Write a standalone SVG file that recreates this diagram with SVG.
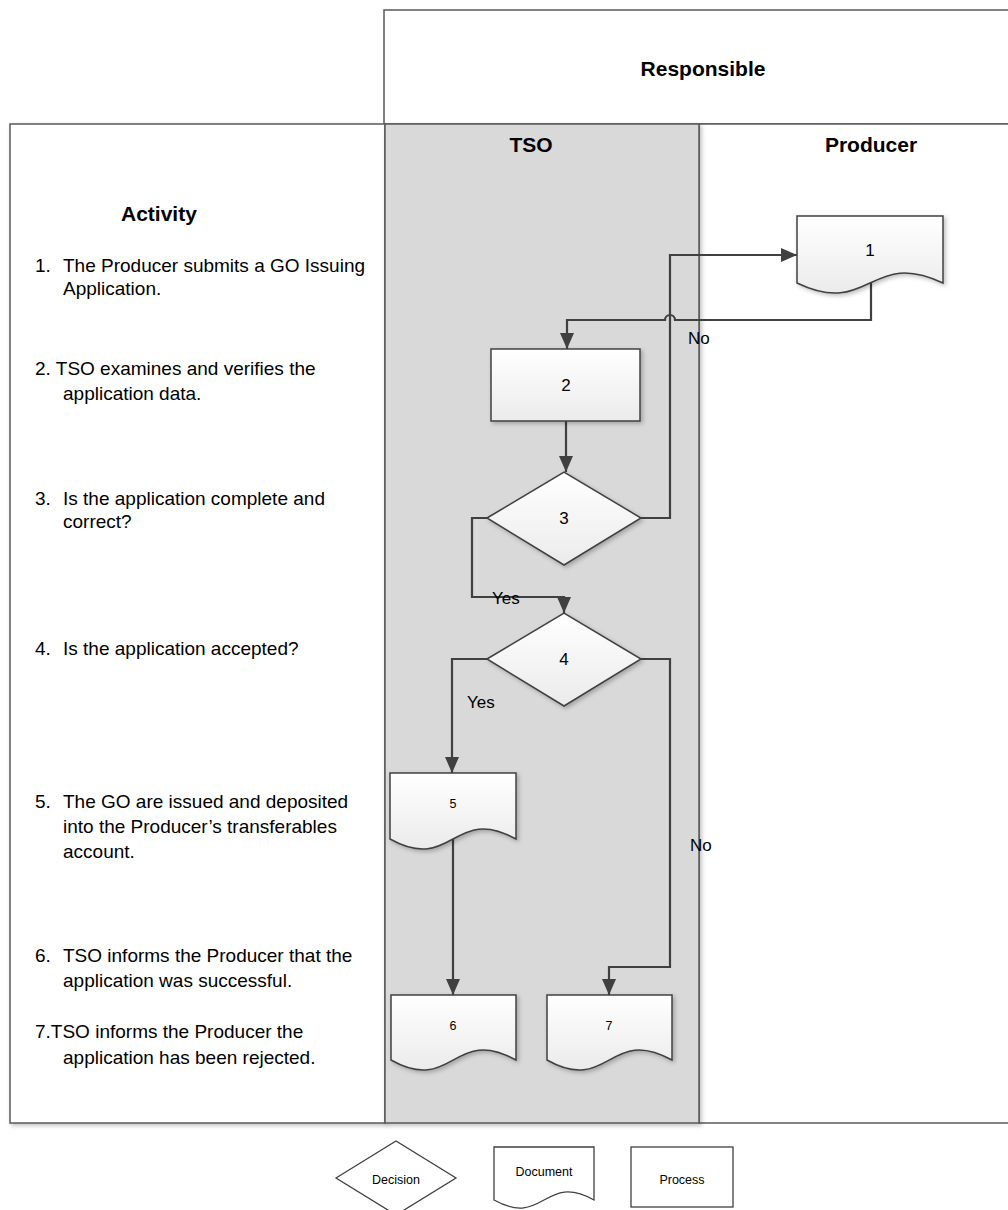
<svg xmlns="http://www.w3.org/2000/svg" width="1008" height="1210" viewBox="0 0 1008 1210">
<style>
.frame{fill:#ffffff;stroke:#595959;stroke-width:1.5}
.lane{fill:#d9d9d9;stroke:#595959;stroke-width:1.5}
.node{fill:url(#g);stroke:#404040;stroke-width:1.5}
.leg{fill:#ffffff;stroke:#404040;stroke-width:1.3}
.conn{fill:none;stroke:#404040;stroke-width:2.2}
text{font-family:"Liberation Sans",Arial,sans-serif;fill:#000}
.hdr{font-size:21px;font-weight:bold}
.act{font-size:19px}
.num{font-size:17px;text-anchor:middle}
.snum{font-size:12.5px;text-anchor:middle}
.lbl{font-size:17px}
.lg{font-size:12.5px;text-anchor:middle}
</style>
<defs>
<linearGradient id="g" x1="0" y1="0" x2="0" y2="1">
<stop offset="0" stop-color="#ffffff"/>
<stop offset="1" stop-color="#ebebeb"/>
</linearGradient>
<filter id="sh" x="-10%" y="-10%" width="130%" height="130%">
<feDropShadow dx="2" dy="2" stdDeviation="2" flood-color="#000" flood-opacity="0.25"/>
</filter>
<marker id="arr" viewBox="0 0 16 14" refX="16" refY="7" markerWidth="16" markerHeight="14" markerUnits="userSpaceOnUse" orient="auto">
<path d="M0,0 L16,7 L0,14 Z" fill="#404040"/>
</marker>
</defs>

<g id="frame">
<rect class="frame" x="384" y="10" width="640" height="114"/>
<text class="hdr" x="703" y="76" text-anchor="middle">Responsible</text>
<rect class="frame" x="10" y="124" width="375" height="999" filter="url(#sh)"/>
<rect class="frame" x="699" y="124" width="330" height="999"/>
<rect class="lane" x="385" y="124" width="314" height="999" filter="url(#sh)"/>
<text class="hdr" x="531" y="152" text-anchor="middle">TSO</text>
<text class="hdr" x="871" y="152" text-anchor="middle">Producer</text>
</g>

<g id="activity">
<text class="hdr" x="121" y="221">Activity</text>
<text class="act" x="35" y="272">1.</text>
<text class="act" x="63" y="272">The Producer submits a GO  Issuing</text>
<text class="act" x="63" y="295">Application.</text>
<text class="act" x="35" y="375">2. TSO examines and verifies the</text>
<text class="act" x="63" y="400">application data.</text>
<text class="act" x="35" y="505">3.</text>
<text class="act" x="63" y="505">Is the  application complete and</text>
<text class="act" x="63" y="528">correct?</text>
<text class="act" x="35" y="655">4.</text>
<text class="act" x="63" y="655">Is the application  accepted?</text>
<text class="act" x="35" y="808">5.</text>
<text class="act" x="63" y="808">The GO are issued and deposited</text>
<text class="act" x="63" y="833">into the Producer’s transferables</text>
<text class="act" x="63" y="858">account.</text>
<text class="act" x="35" y="962">6.</text>
<text class="act" x="63" y="962">TSO  informs the Producer that the</text>
<text class="act" x="63" y="987">application was successful.</text>
<text class="act" x="35" y="1038">7.TSO informs the Producer the</text>
<text class="act" x="63" y="1064">application has been rejected.</text>
</g>

<g id="connectors">
<path class="conn" d="M641,518 H670 V255 H797" marker-end="url(#arr)"/>
<path class="conn" d="M871,283 V320 H675 A5,5 0 0 0 665,320 H567 V349" marker-end="url(#arr)"/>
<path class="conn" d="M566,421 V472" marker-end="url(#arr)"/>
<path class="conn" d="M487,518 H472 V597 H564 V613" marker-end="url(#arr)"/>
<path class="conn" d="M487,659 H452 V773" marker-end="url(#arr)"/>
<path class="conn" d="M641,659 H670 V967 H609 V995" marker-end="url(#arr)"/>
<path class="conn" d="M453,839 V995" marker-end="url(#arr)"/>
<text class="lbl" x="688" y="344">No</text>
<text class="lbl" x="492" y="604">Yes</text>
<text class="lbl" x="467" y="708">Yes</text>
<text class="lbl" x="690" y="851">No</text>
</g>

<g id="n1">
<path class="node" filter="url(#sh)" d="M797,216 H943 V283 C870,248 870,318 797,283 Z"/>
<text class="num" x="870" y="256">1</text>
</g>
<g id="n2">
<rect class="node" filter="url(#sh)" x="491" y="349" width="149" height="72"/>
<text class="num" x="566" y="391">2</text>
</g>
<g id="n3">
<path class="node" filter="url(#sh)" d="M487,518 L564,472 L641,518 L564,565 Z"/>
<text class="num" x="564" y="524">3</text>
</g>
<g id="n4">
<path class="node" filter="url(#sh)" d="M487,659 L564,613 L641,659 L564,706 Z"/>
<text class="num" x="564" y="665">4</text>
</g>
<g id="n5">
<path class="node" filter="url(#sh)" d="M390,773 H516 V839 C453,804 453,874 390,839 Z"/>
<text class="snum" x="453" y="808">5</text>
</g>
<g id="n6">
<path class="node" filter="url(#sh)" d="M391,995 H516 V1060 C453,1025 453,1095 391,1060 Z"/>
<text class="snum" x="453" y="1030">6</text>
</g>
<g id="n7">
<path class="node" filter="url(#sh)" d="M547,995 H672 V1060 C609,1025 609,1095 547,1060 Z"/>
<text class="snum" x="609" y="1030">7</text>
</g>

<g id="legend-decision">
<path class="leg" d="M336,1178 L396,1141 L456,1178 L396,1215 Z"/>
<text class="lg" x="396" y="1184">Decision</text>
</g>
<g id="legend-document">
<path class="leg" d="M494,1147 H594 V1200 C544,1172 544,1228 494,1200 Z"/>
<text class="lg" x="544" y="1176">Document</text>
</g>
<g id="legend-process">
<rect class="leg" x="631" y="1147" width="102" height="60"/>
<text class="lg" x="682" y="1184">Process</text>
</g>
</svg>
